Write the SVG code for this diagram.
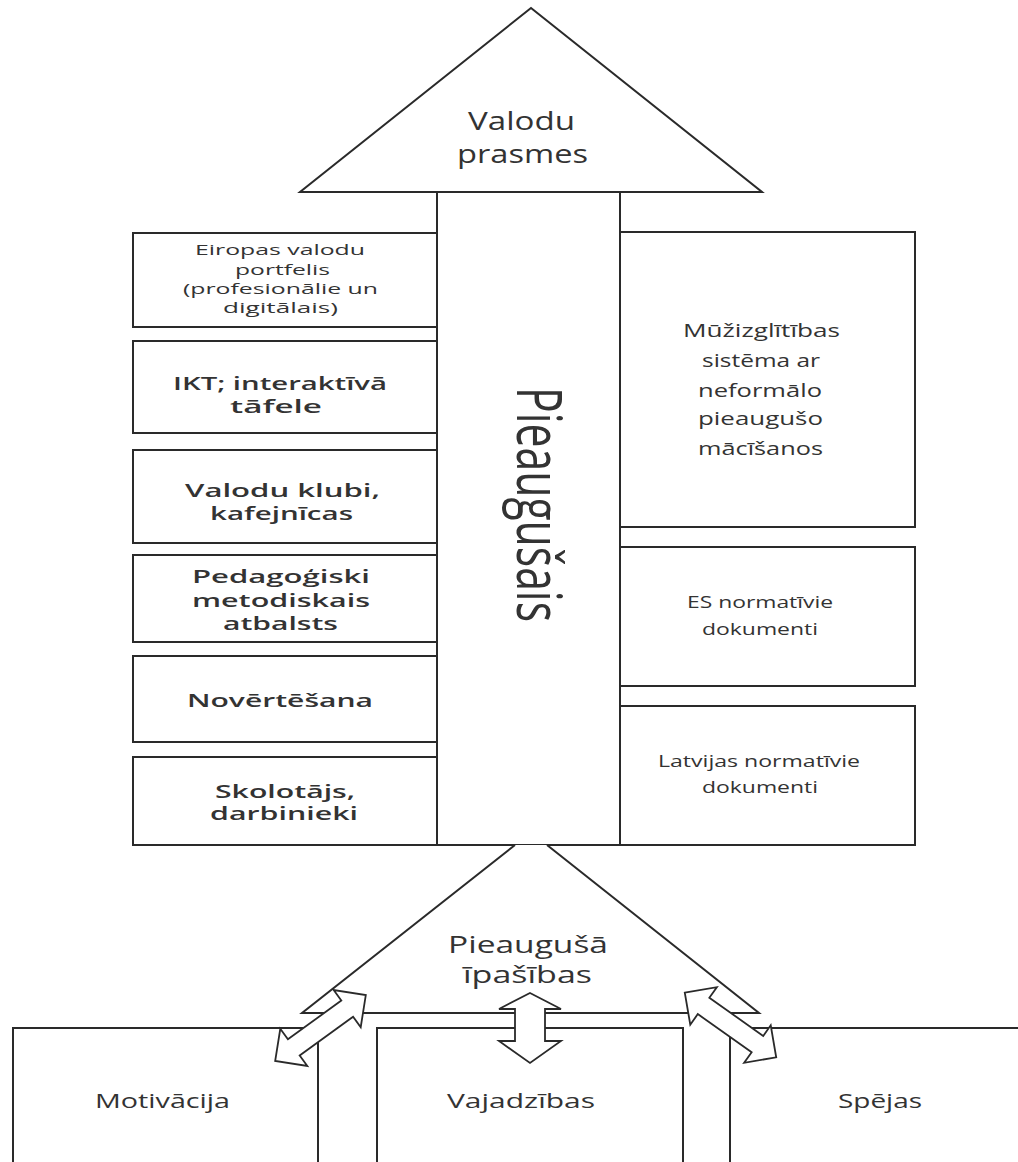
<svg xmlns="http://www.w3.org/2000/svg" width="1018" height="1162" viewBox="0 0 1018 1162">
<defs>
<style>
.b{fill:#fff;stroke:#2a2a2a;stroke-width:2}
.ar{fill:#fff;stroke:#2a2a2a;stroke-width:1.8;stroke-linejoin:miter}
text{font-family:"Open Sans","Liberation Sans",sans-serif;fill:#333;text-anchor:middle}
.s{font-size:14px}
.m{font-size:17.5px;font-weight:600}
.r{font-size:18px}
.r2{font-size:16px}
.t{font-size:25px}
.tb{font-size:23px}
.bt{font-size:20px}
</style>
<polygon id="dbl" points="-56,0 -33,-23 -33,-10 33,-10 33,-23 56,0 33,23 33,10 -33,10 -33,23"/>
</defs>
<rect width="1018" height="1162" fill="#fff"/>

<g id="top-triangle">
<polygon class="b" points="531,8 300,192 762,192"/>
<text class="t" x="521.5" y="130" textLength="107" lengthAdjust="spacingAndGlyphs">Valodu</text>
<text class="t" x="522.5" y="163" textLength="131" lengthAdjust="spacingAndGlyphs">prasmes</text>
</g>

<g id="column">
<rect class="b" x="437" y="192" width="183" height="653"/>
<text transform="translate(517,504.5) rotate(90)" style="font-size:62px" x="0" y="0" textLength="235" lengthAdjust="spacingAndGlyphs">Pieaugušais</text>
</g>

<g id="box-eiropas">
<rect class="b" x="133" y="233" width="304" height="94"/>
<text class="s" x="280" y="255" textLength="170" lengthAdjust="spacingAndGlyphs">Eiropas valodu</text>
<text class="s" x="282.5" y="275" textLength="95" lengthAdjust="spacingAndGlyphs">portfelis</text>
<text class="s" x="280.5" y="294" textLength="195" lengthAdjust="spacingAndGlyphs">(profesionālie un</text>
<text class="s" x="280.5" y="313" textLength="115" lengthAdjust="spacingAndGlyphs">digitālais)</text>
</g>

<g id="box-ikt">
<rect class="b" x="133" y="341" width="304" height="92"/>
<text class="m" x="280" y="390" textLength="214" lengthAdjust="spacingAndGlyphs">IKT; interaktīvā</text>
<text class="m" x="276" y="413" textLength="92" lengthAdjust="spacingAndGlyphs">tāfele</text>
</g>

<g id="box-klubi">
<rect class="b" x="133" y="450" width="304" height="93"/>
<text class="m" x="282.5" y="497" textLength="195" lengthAdjust="spacingAndGlyphs">Valodu klubi,</text>
<text class="m" x="281.5" y="520" textLength="143" lengthAdjust="spacingAndGlyphs">kafejnīcas</text>
</g>

<g id="box-pedagogiski">
<rect class="b" x="133" y="555" width="304" height="87"/>
<text class="m" x="281" y="583" textLength="178" lengthAdjust="spacingAndGlyphs">Pedagoģiski</text>
<text class="m" x="281" y="607" textLength="178" lengthAdjust="spacingAndGlyphs">metodiskais</text>
<text class="m" x="280.5" y="630" textLength="115" lengthAdjust="spacingAndGlyphs">atbalsts</text>
</g>

<g id="box-novertesana">
<rect class="b" x="133" y="656" width="304" height="86"/>
<text class="m" x="280" y="707" textLength="186" lengthAdjust="spacingAndGlyphs">Novērtēšana</text>
</g>

<g id="box-skolotajs">
<rect class="b" x="133" y="757" width="304" height="88"/>
<text class="m" x="285" y="798" textLength="140" lengthAdjust="spacingAndGlyphs">Skolotājs,</text>
<text class="m" x="284" y="820" textLength="148" lengthAdjust="spacingAndGlyphs">darbinieki</text>
</g>

<g id="box-muzizglitiba">
<rect class="b" x="620" y="232" width="295" height="295"/>
<text class="r" x="761.5" y="337" textLength="157" lengthAdjust="spacingAndGlyphs">Mūžizglītības</text>
<text class="r" x="761" y="367" textLength="118" lengthAdjust="spacingAndGlyphs">sistēma ar</text>
<text class="r" x="760" y="397" textLength="124" lengthAdjust="spacingAndGlyphs">neformālo</text>
<text class="r" x="760.5" y="425" textLength="125" lengthAdjust="spacingAndGlyphs">pieaugušo</text>
<text class="r" x="760.5" y="455" textLength="125" lengthAdjust="spacingAndGlyphs">mācīšanos</text>
</g>

<g id="box-es">
<rect class="b" x="620" y="547" width="295" height="139"/>
<text class="r2" x="760" y="608" textLength="146" lengthAdjust="spacingAndGlyphs">ES normatīvie</text>
<text class="r2" x="760" y="635" textLength="116" lengthAdjust="spacingAndGlyphs">dokumenti</text>
</g>

<g id="box-latvijas">
<rect class="b" x="620" y="706" width="295" height="139"/>
<text class="r2" x="759" y="767" textLength="202" lengthAdjust="spacingAndGlyphs">Latvijas normatīvie</text>
<text class="r2" x="760" y="793" textLength="116" lengthAdjust="spacingAndGlyphs">dokumenti</text>
</g>

<g id="box-motivacija">
<rect class="b" x="13" y="1028" width="305" height="150"/>
<text class="bt" x="162.5" y="1108" textLength="135" lengthAdjust="spacingAndGlyphs">Motivācija</text>
</g>

<g id="box-vajadzibas">
<rect class="b" x="377" y="1028" width="306" height="150"/>
<text class="bt" x="521" y="1108" textLength="148" lengthAdjust="spacingAndGlyphs">Vajadzības</text>
</g>

<g id="box-spejas">
<rect class="b" x="730" y="1028" width="300" height="150"/>
<text class="bt" x="880" y="1108" textLength="84" lengthAdjust="spacingAndGlyphs">Spējas</text>
</g>

<g id="bottom-triangle">
<path class="b" d="M515,845 L302,1013 L759,1013 L547,845"/>
<text class="tb" x="528" y="953" textLength="160" lengthAdjust="spacingAndGlyphs">Pieaugušā</text>
<text class="tb" x="527.5" y="983" textLength="129" lengthAdjust="spacingAndGlyphs">īpašības</text>
</g>

<g id="connectors">
<use href="#dbl" class="ar" transform="translate(320.5,1028) rotate(-36)"/>
<polygon class="ar" points="530,993 561,1009 545,1009 545,1041 561,1041 530,1063 499,1041 515,1041 515,1009 499,1009"/>
<use href="#dbl" class="ar" transform="translate(730.5,1025) rotate(35.3)"/>
</g>
</svg>
